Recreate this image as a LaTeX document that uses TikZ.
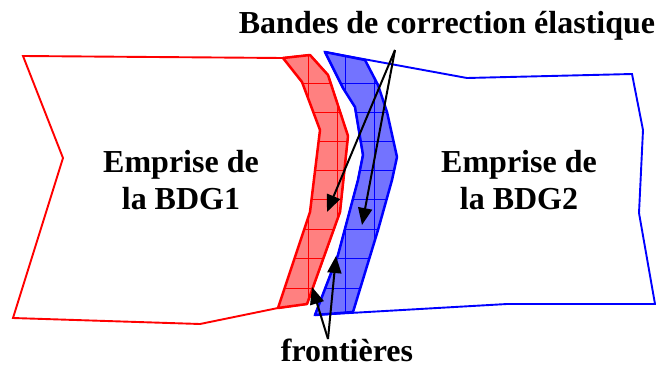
\documentclass[tikz,border=0pt]{standalone}
\usepackage{fontspec}
\setmainfont{Liberation Serif}
\usetikzlibrary{arrows.meta}
\begin{document}
\begin{tikzpicture}[x=1pt,y=-1pt,
  zone/.style={line width=1.9pt,line join=miter},
  band/.style={line width=2.5pt,line join=round},
  gridline/.style={line width=0.6pt},
  lbl/.style={font=\bfseries\fontsize{32}{37}\selectfont,align=center,inner sep=0pt},
  ptr/.style={line width=2pt,-{Triangle[length=17pt,width=14pt]}}]
\useasboundingbox (0,0) rectangle (656,367);
% BDG1 zone
\draw[zone,red] (23,56) -- (283,58) -- (310,55) -- (328,75) -- (348,136) -- (340,212)
  -- (307,304) -- (278,308) -- (200,324) -- (13,318) -- (63,158) -- cycle;
% BDG2 zone
\draw[zone,blue] (325,52) -- (467,78) -- (632,74) -- (643,130) -- (639,213) -- (655,304)
  -- (507,304) -- (315,315) -- (338,255) -- (358,180) -- (363,155) -- (355,107) -- (343,88) -- cycle;
% red band
\path[fill=red!50] (283,58) -- (310,55) -- (328,75) -- (348,136) -- (340,212) -- (307,304)
  -- (278,308) -- (310,212) -- (320,130) -- (302,82) -- cycle;
\begin{scope}
\clip (283,58) -- (310,55) -- (328,75) -- (348,136) -- (340,212) -- (307,304)
  -- (278,308) -- (310,212) -- (320,130) -- (302,82) -- cycle;
\foreach \x in {279,308,337} \draw[gridline,red] (\x,40) -- (\x,330);
\foreach \y in {83,112,141,170,199,229,258,288} \draw[gridline,red] (260,\y) -- (360,\y);
\end{scope}
\draw[band,red] (283,58) -- (310,55) -- (328,75) -- (348,136) -- (340,212) -- (307,304)
  -- (278,308) -- (310,212) -- (320,130) -- (302,82) -- cycle;
% blue band
\path[fill=blue!55] (325,52) -- (365,60) -- (378,85) -- (387,112) -- (397,157) -- (392,180)
  -- (378,230) -- (353,312) -- (315,315) -- (338,255) -- (358,180) -- (363,155) -- (355,107) -- (343,88) -- cycle;
\begin{scope}
\clip (325,52) -- (365,60) -- (378,85) -- (387,112) -- (397,157) -- (392,180)
  -- (378,230) -- (353,312) -- (315,315) -- (338,255) -- (358,180) -- (363,155) -- (355,107) -- (343,88) -- cycle;
\foreach \x in {345,374} \draw[gridline,blue] (\x,40) -- (\x,330);
\foreach \y in {83,112,141,170,199,229,258,288} \draw[gridline,blue] (300,\y) -- (410,\y);
\end{scope}
\draw[band,blue] (325,52) -- (365,60) -- (378,85) -- (387,112) -- (397,157) -- (392,180)
  -- (378,230) -- (353,312) -- (315,315) -- (338,255) -- (358,180) -- (363,155) -- (355,107) -- (343,88) -- cycle;
% labels
\node[lbl,anchor=base] (bdg1) at (181,209) {Emprise de\\la BDG1};
\node[lbl,anchor=base] (bdg2) at (519,209) {Emprise de\\la BDG2};
\node[lbl,anchor=base] (bandes) at (447,33) {Bandes de correction élastique};
\node[lbl,anchor=base] (front) at (347,361) {frontières};
% arrows
\coordinate (bsrc) at (395,50);
\coordinate (btip1) at (327,212);
\coordinate (btip2) at (362,225);
\coordinate (fsrc) at (328,339);
\coordinate (ftip1) at (312,287);
\coordinate (ftip2) at (336,256);
\draw[ptr] (bsrc) -- (btip1);
\draw[ptr] (bsrc) -- (btip2);
\draw[ptr] (fsrc) -- (ftip1);
\draw[ptr] (fsrc) -- (ftip2);
\end{tikzpicture}
\end{document}
